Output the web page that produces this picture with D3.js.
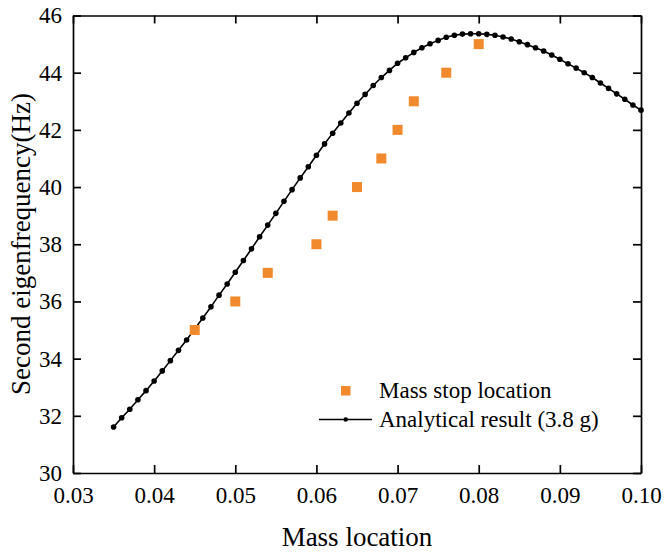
<!DOCTYPE html>
<html><head><meta charset="utf-8">
<script src="https://cdn.jsdelivr.net/npm/d3@7"></script>
<style>body{margin:0;background:#fff;}</style>
</head><body><svg id="c" width="664" height="554" font-family="Liberation Serif, Times New Roman, serif"></svg>
<script>
const stopX = [0.045,0.050,0.054,0.060,0.062,0.065,0.068,0.070,0.072,0.076,0.080];
const stopY = [35,36,37,38,39,40,41,42,43,44,45];
const anaX = d3.range(35,101).map(v=>v/1000);
const anaY = [31.61,31.93,32.23,32.56,32.88,33.22,33.57,33.93,34.29,34.65,
35.04,35.42,35.81,36.22,36.61,37.02,37.43,37.84,38.26,38.67,
39.08,39.50,39.91,40.32,40.71,41.11,41.51,41.88,42.24,42.59,
42.93,43.24,43.55,43.83,44.08,44.33,44.52,44.71,44.87,45.01,
45.13,45.24,45.31,45.35,45.36,45.36,45.34,45.31,45.25,45.18,
45.08,44.98,44.87,44.76,44.62,44.47,44.31,44.16,44.00,43.83,
43.64,43.45,43.26,43.07,42.87,42.69];
const xTicks = [0.03,0.04,0.05,0.06,0.07,0.08,0.09,0.10];
const yTicks = [30,32,34,36,38,40,42,44,46];
const xLabel = "Mass location";
const yLabel = "Second eigenfrequency(Hz)";
const legendLabels = ["Mass stop location","Analytical result (3.8 g)"];

const FF="Liberation Serif";
const L=73,R=641,T=15.5,B=473;
const svg=d3.select("#c");
const x=d3.scaleLinear().domain([0.03,0.10]).range([L,R]);
const y=d3.scaleLinear().domain([30,46]).range([B,T]);
const orange="#f08a2c";

const line=d3.line().x((d,i)=>x(anaX[i])).y(d=>y(d));
svg.append("path").datum(anaY).attr("d",line).attr("fill","none").attr("stroke","#000").attr("stroke-width",1.6);
svg.selectAll("circle.a").data(anaY).enter().append("circle").attr("class","a")
 .attr("cx",(d,i)=>x(anaX[i])).attr("cy",d=>y(d)).attr("r",2.8).attr("fill","#000");
svg.selectAll("rect.s").data(stopY).enter().append("rect").attr("class","s")
 .attr("x",(d,i)=>x(stopX[i])-5).attr("y",d=>y(d)-5).attr("width",10).attr("height",10).attr("fill",orange);

const fmtX=d=>d3.format(".2f")(d);
const ax=svg.append("g").attr("transform",`translate(0,${B})`).call(d3.axisBottom(x).tickValues(xTicks).tickFormat(fmtX).tickSizeInner(-8).tickSizeOuter(0).tickPadding(14));
const axT=svg.append("g").attr("transform",`translate(0,${T})`).call(d3.axisTop(x).tickValues(xTicks).tickFormat("").tickSizeInner(-8).tickSizeOuter(0));
const ay=svg.append("g").attr("transform",`translate(${L},0)`).call(d3.axisLeft(y).tickValues(yTicks).tickFormat(d3.format("d")).tickSizeInner(-8).tickSizeOuter(0).tickPadding(11));
const ayR=svg.append("g").attr("transform",`translate(${R},0)`).call(d3.axisRight(y).tickValues(yTicks).tickFormat("").tickSizeInner(-8).tickSizeOuter(0));
[ax,axT,ay,ayR].forEach(g=>{
  g.attr("font-family",FF).attr("font-size",23);
  g.selectAll("path.domain").attr("stroke","#000").attr("stroke-width",1.7);
  g.selectAll(".tick line").attr("stroke","#000").attr("stroke-width",1.7);
  g.selectAll(".tick text").attr("fill","#000").attr("font-family",FF).attr("font-size",23);
});
ax.selectAll(".tick text").attr("dy","0.71em");

svg.append("text").attr("x",(L+R)/2).attr("y",546).attr("text-anchor","middle").attr("font-family",FF).attr("font-size",27).text(xLabel);
svg.append("text").attr("transform","translate(30,244) rotate(-90)").attr("text-anchor","middle").attr("font-family",FF).attr("font-size",27).text(yLabel);

svg.append("rect").attr("x",341).attr("y",386).attr("width",9.5).attr("height",9.5).attr("fill",orange);
svg.append("line").attr("x1",319).attr("x2",372).attr("y1",419.5).attr("y2",419.5).attr("stroke","#000").attr("stroke-width",1.6);
svg.append("circle").attr("cx",345.7).attr("cy",419.5).attr("r",2.3).attr("fill","#000");
svg.append("text").attr("x",379).attr("y",398).attr("font-family",FF).attr("font-size",23).text(legendLabels[0]);
svg.append("text").attr("x",379).attr("y",427).attr("font-family",FF).attr("font-size",23).text(legendLabels[1]);
</script></body></html>
